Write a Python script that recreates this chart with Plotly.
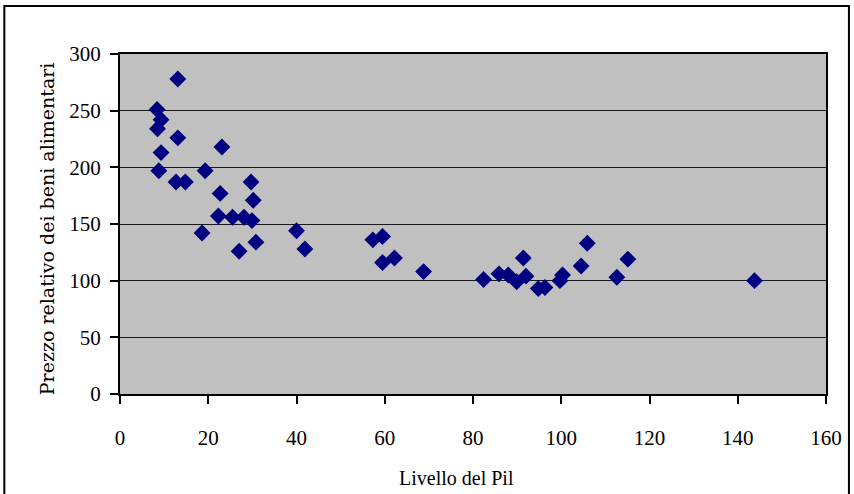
import plotly.graph_objects as go

# GDP level (x) and relative price of food goods (y), one entry per country
pil = [13.1, 8.4, 9.3, 8.5, 13.1, 9.3, 8.8, 23.1, 19.3, 12.7, 14.8, 29.7, 22.7, 30.2,
       22.3, 25.5, 28.1, 29.9, 18.6, 30.8, 27.0, 40.0, 41.9, 57.3, 59.5, 59.5, 62.2,
       68.8, 82.4, 85.9, 88.0, 89.9, 91.4, 92.0, 94.8, 96.3, 99.7, 100.3, 104.5,
       105.9, 112.6, 115.1, 143.8]
prezzo = [278, 251, 242, 234, 226, 213, 197, 218, 197, 187, 187, 187, 177, 171,
          157, 156, 156, 153, 142, 134, 126, 144, 128, 136, 139, 116, 120,
          108, 101, 106, 105, 99, 120, 104, 93, 94, 100, 105, 113,
          133, 103, 119, 100]

x_ticks = [0, 20, 40, 60, 80, 100, 120, 140, 160]
y_ticks = [0, 50, 100, 150, 200, 250, 300]

serif = "Liberation Serif"

fig = go.Figure(
    go.Scatter(
        x=pil,
        y=prezzo,
        mode="markers",
        marker=dict(symbol="diamond", size=13, color="#000080",
                    line=dict(width=0)),
        hoverinfo="x+y",
    )
)

axis_common = dict(
    showline=True, linecolor="black", linewidth=2, mirror=True,
    ticks="outside", ticklen=8, tickwidth=1.5, tickcolor="black",
    zeroline=False,
    tickfont=dict(family=serif, size=21, color="black"),
)

fig.update_xaxes(
    range=[0, 160], tickvals=x_ticks, showgrid=False,
    ticklabelstandoff=16, **axis_common,
)
fig.update_yaxes(
    range=[0, 300], tickvals=y_ticks, showgrid=True,
    gridcolor="#1a1a1a", gridwidth=1, ticklabelstandoff=5, **axis_common,
)

W, H = 854, 494
ml, mr, mt, mb = 120, 26, 54, 100
pw, ph = W - ml - mr, H - mt - mb


def px_x(p):
    return (p - ml) / pw


def px_y(p):
    return (H - mb - p) / ph


fig.update_layout(
    width=W, height=H,
    margin=dict(l=ml, r=mr, t=mt, b=mb, pad=0),
    paper_bgcolor="white",
    plot_bgcolor="#C0C0C0",
    showlegend=False,
    shapes=[
        dict(type="rect", xref="paper", yref="paper",
             x0=px_x(4), x1=px_x(851), y0=px_y(498), y1=px_y(6),
             line=dict(color="black", width=2), fillcolor="rgba(0,0,0,0)",
             layer="below"),
    ],
    annotations=[
        dict(text="Livello del Pil", xref="paper", yref="paper",
             x=px_x(457), y=px_y(478), showarrow=False,
             xanchor="center", yanchor="middle",
             font=dict(family=serif, size=20, color="black")),
        dict(text="Prezzo relativo dei beni alimentari", xref="paper", yref="paper",
             x=px_x(47), y=px_y(229), showarrow=False, textangle=-90,
             xanchor="center", yanchor="middle",
             font=dict(family="DejaVu Serif", size=19, color="black")),
    ],
)

fig.write_html("out.html")
